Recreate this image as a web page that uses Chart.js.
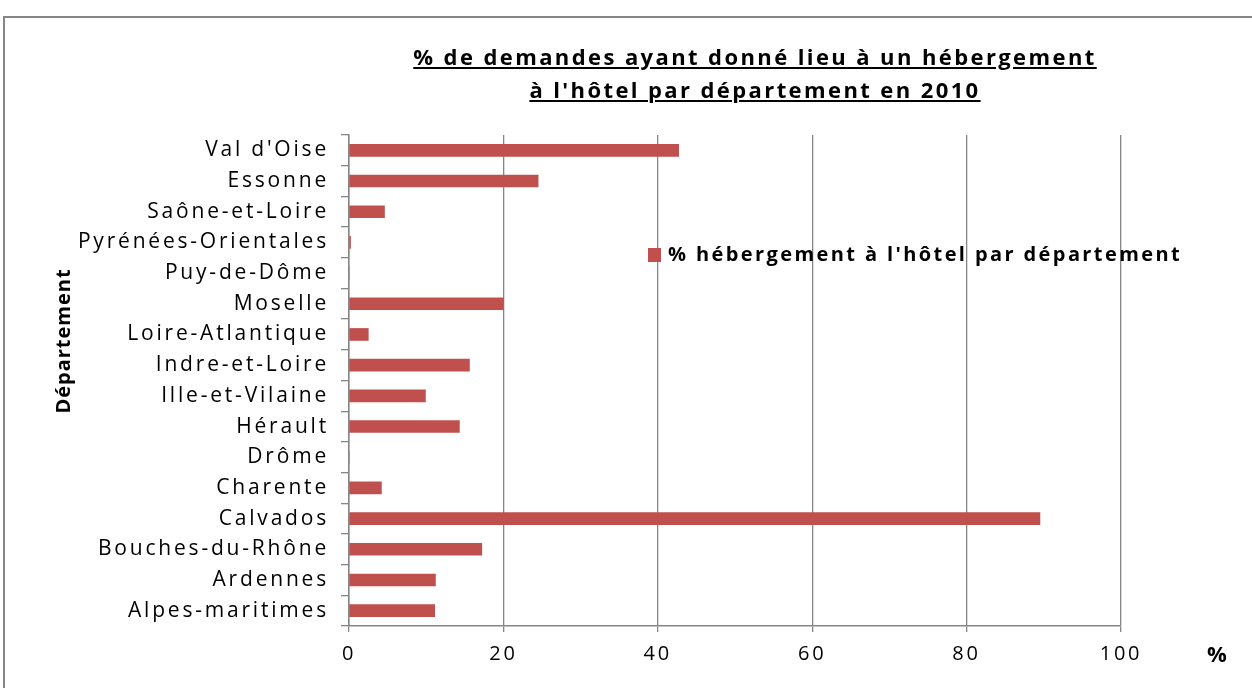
<!DOCTYPE html>
<html>
<head>
<meta charset="utf-8">
<script src="https://cdn.jsdelivr.net/npm/chart.js@4.4.1/dist/chart.umd.min.js"></script>
<style>
  html, body { margin: 0; padding: 0; background: #ffffff; }
  #wrap { position: relative; width: 1252px; height: 688px; overflow: hidden; }
  #title { position: absolute; left: 305px; width: 900px; top: 40px; text-align: center;
    font-family: "Open Sans", sans-serif; font-weight: bold; font-size: 22px; line-height: 33px;
    letter-spacing: 2.4px; text-decoration: underline; color: #000; }
</style>
</head>
<body>
<div id="wrap">
  <canvas id="c" width="1252" height="688"></canvas>
  <div id="title">% de demandes ayant donné lieu à un hébergement<br>à l'hôtel par département en 2010</div>
</div>
<script>
const departements = ["Val d'Oise", "Essonne", "Saône-et-Loire", "Pyrénées-Orientales", "Puy-de-Dôme",
  "Moselle", "Loire-Atlantique", "Indre-et-Loire", "Ille-et-Vilaine", "Hérault", "Drôme",
  "Charente", "Calvados", "Bouches-du-Rhône", "Ardennes", "Alpes-maritimes"];
const pctHotel = [42.7, 24.5, 4.6, 0.2, 0, 20.0, 2.5, 15.6, 9.9, 14.3, 0, 4.2, 89.5, 17.2, 11.2, 11.1];
const seriesLabel = "% hébergement à l'hôtel par département";
const yAxisTitle = "Département";
const xAxisTitle = "%";
const xTicks = [0, 20, 40, 60, 80, 100];

const GRAY = '#868686';
const BAR = '#C0504D';
const FONT = '"Open Sans", sans-serif';
const SPACING = '2.8px';

const decor = {
  id: 'decor',
  beforeUpdate(chart) { chart.ctx.letterSpacing = SPACING; },
  beforeLayout(chart) { chart.ctx.letterSpacing = SPACING; },
  beforeDraw(chart) {
    const ctx = chart.ctx;
    ctx.letterSpacing = SPACING;
    ctx.save();
    ctx.strokeStyle = GRAY;
    ctx.lineWidth = 2;
    ctx.strokeRect(4, 17, 1400, 800);
    ctx.restore();
  },
  afterDraw(chart) {
    const ctx = chart.ctx;
    ctx.save();
    // y axis title
    ctx.fillStyle = '#000';
    ctx.letterSpacing = '1px';
    ctx.font = 'bold 20px ' + FONT;
    ctx.translate(64, 341);
    ctx.rotate(-Math.PI / 2);
    ctx.textAlign = 'center';
    ctx.textBaseline = 'middle';
    ctx.fillText(yAxisTitle, 0, 0);
    ctx.restore();
    // x axis title
    ctx.save();
    ctx.fillStyle = '#000';
    ctx.letterSpacing = '0px';
    ctx.font = 'bold 22px ' + FONT;
    ctx.textAlign = 'center';
    ctx.textBaseline = 'middle';
    ctx.fillText(xAxisTitle, 1217, 656);
    ctx.restore();
    // legend
    ctx.save();
    ctx.fillStyle = BAR;
    ctx.fillRect(648, 248, 13, 14);
    ctx.fillStyle = '#000';
    ctx.letterSpacing = '2.4px';
    ctx.font = 'bold 20px ' + FONT;
    ctx.textAlign = 'left';
    ctx.textBaseline = 'middle';
    ctx.fillText(chart.data.datasets[0].label, 668, 255);
    ctx.restore();
  }
};

new Chart(document.getElementById('c'), {
  type: 'bar',
  data: {
    labels: departements,
    datasets: [{
      label: seriesLabel,
      data: pctHotel,
      backgroundColor: BAR,
      borderWidth: 0,
      barThickness: 12
    }]
  },
  options: {
    indexAxis: 'y',
    responsive: false,
    animation: false,
    events: [],
    layout: { padding: { top: 135, right: 131, left: 0, bottom: 20 } },
    plugins: { legend: { display: false }, title: { display: false }, tooltip: { enabled: false } },
    scales: {
      x: {
        min: 0, max: 100,
        afterBuildTicks(scale) { scale.ticks = xTicks.map(v => ({ value: v })); },
        afterFit(scale) { scale.height = 42; },
        ticks: { color: '#000', font: { family: FONT, size: 20 }, padding: 10 },
        grid: { color: GRAY, lineWidth: 1.3, tickLength: 6, drawTicks: true },
        border: { color: GRAY, width: 1.5 }
      },
      y: {
        afterFit(scale) { scale.width = 349; },
        ticks: { color: '#000', font: { family: FONT, size: 21 }, padding: 12, autoSkip: false },
        grid: { color: GRAY, drawOnChartArea: false, tickLength: 8, offset: true, lineWidth: 1.3 },
        border: { color: GRAY, width: 1.5 }
      }
    }
  },
  plugins: [decor]
});
</script>
</body>
</html>
